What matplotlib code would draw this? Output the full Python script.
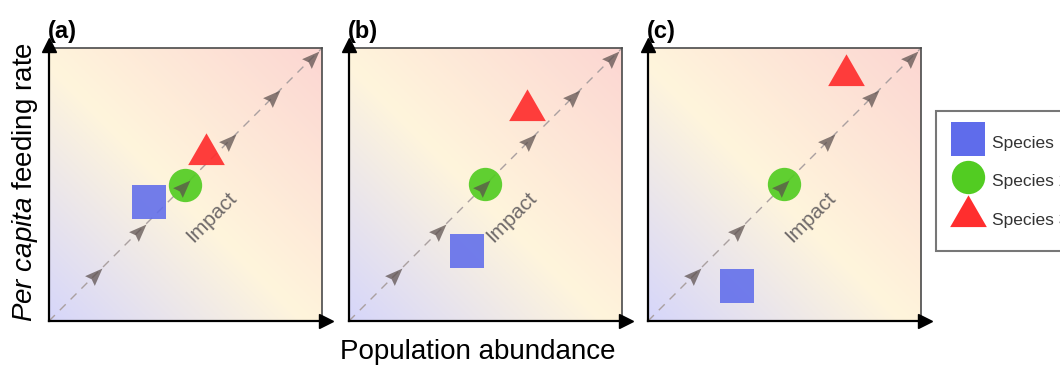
import numpy as np
import matplotlib.pyplot as plt
from matplotlib.colors import LinearSegmentedColormap
from matplotlib.lines import Line2D

plt.rcParams['font.family'] = ['Liberation Sans', 'DejaVu Sans']
plt.rcParams['mathtext.fontset'] = 'custom'
plt.rcParams['mathtext.it'] = 'Liberation Sans:italic'
plt.rcParams['mathtext.rm'] = 'Liberation Sans'

# data
panels = ['(a)', '(b)', '(c)']
species = ['Species 1', 'Species 2', 'Species 3']
# (x, y) of each species per panel, axis units 0..1
sp1_x = [0.366, 0.431, 0.325]
sp1_y = [0.436, 0.256, 0.128]
sp2_x = [0.498, 0.498, 0.498]
sp2_y = [0.498, 0.500, 0.500]
sp3_x = [0.575, 0.651, 0.725]
sp3_y = [0.611, 0.773, 0.901]
arrow_t = [0.17, 0.33, 0.49, 0.66, 0.82, 0.965]

colors = ['#5f6ceb', '#52cc22', '#ff2e2e']

cmap = LinearSegmentedColormap.from_list(
    'bg', [(0.0, '#d6d6fa'), (0.47, '#fff5dc'), (1.0, '#fcd6d2')])

# dart-shaped arrowhead pointing along the diagonal
dart = np.array([[1.0, 0.0], [-0.8, 0.7], [-0.55, 0.0], [-0.8, -0.7], [1.0, 0.0]])
ang = np.deg2rad(45)
rot = np.array([[np.cos(ang), -np.sin(ang)], [np.sin(ang), np.cos(ang)]])
dart = dart @ rot.T

fig = plt.figure(figsize=(10.6, 3.68), dpi=100)
lefts = [49, 349, 648]

g = np.linspace(0, 1, 200)
gx, gy = np.meshgrid(g, g)
grad = (gx + gy) / 2

for i, lab in enumerate(panels):
    ax = fig.add_axes([lefts[i] / 1060, 47 / 368, 273 / 1060, 273 / 368])
    ax.imshow(grad, extent=(0, 1, 0, 1), origin='lower', cmap=cmap,
              vmin=0, vmax=1, aspect='auto', zorder=0)
    ax.set_xlim(0, 1)
    ax.set_ylim(0, 1)
    ax.set_xticks([])
    ax.set_yticks([])
    for s in ['left', 'bottom']:
        ax.spines[s].set_color('black')
        ax.spines[s].set_linewidth(1.6)
    for s in ['top', 'right']:
        ax.spines[s].set_color('#4a4a4a')
        ax.spines[s].set_linewidth(1.2)

    ax.plot([0, 1], [0, 1], color='#aaa0a0', lw=1.0, dashes=(6, 5), zorder=2)

    ax.plot(sp1_x[i], sp1_y[i], marker='s', ms=24.5, color=colors[0], alpha=0.88,
            mew=0, zorder=3)
    ax.plot(sp2_x[i], sp2_y[i], marker='o', ms=24, color=colors[1], alpha=0.92,
            mew=0, zorder=3)
    ax.plot(sp3_x[i], sp3_y[i], marker=(3, 0, 0), ms=30.5, color=colors[2], alpha=0.92,
            mew=0, zorder=3)

    ax.plot(arrow_t, arrow_t, ls='none', marker=dart, ms=15, color='#5a4e4c',
            alpha=0.72, mew=0, zorder=4)

    ax.text(0.595, 0.38, 'Impact', rotation=45, ha='center', va='center',
            fontsize=15, color='#6f6a6a', zorder=5)

    # axis arrows
    ax.plot(0, 1.011, marker='^', ms=10, color='black', transform=ax.transAxes,
            clip_on=False, zorder=6)
    ax.plot(1.0146, 0, marker='>', ms=10, color='black', transform=ax.transAxes,
            clip_on=False, zorder=6)

    ax.text(-0.005, 1.02, lab, transform=ax.transAxes, ha='left', va='bottom',
            fontsize=17, fontweight='bold')

fig.text(478 / 1060, 1 - 352 / 368, 'Population abundance', ha='center', va='center',
         fontsize=20)
fig.text(25 / 1060, 1 - 182 / 368, r'$\mathit{Per\ capita}$ feeding rate', rotation=90,
         ha='center', va='center', fontsize=20)

handles = [
    Line2D([], [], ls='none', marker='s', ms=24.5, color=colors[0], mew=0),
    Line2D([], [], ls='none', marker='o', ms=24, color=colors[1], mew=0),
    Line2D([], [], ls='none', marker=(3, 0, 0), ms=30.5, color=colors[2], mew=0),
]
leg = fig.legend(handles, species, loc='upper left',
                 bbox_to_anchor=(936 / 1060, 1 - 111 / 368), fontsize=12.5,
                 frameon=True, fancybox=False, edgecolor='#555555',
                 labelspacing=0.8, handleheight=1.8, handletextpad=0.7,
                 borderpad=1.1, borderaxespad=0, handlelength=1.43,
                 labelcolor='#333333')
leg.get_frame().set_linewidth(1.5)

fig.savefig('out.png', dpi=100)
